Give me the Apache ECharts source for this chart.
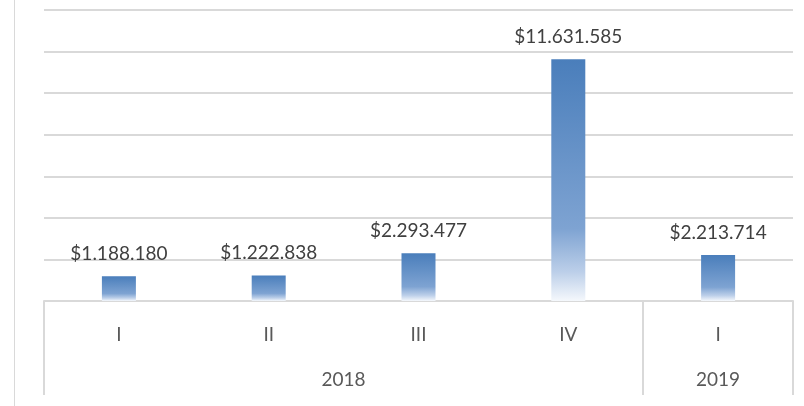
<!DOCTYPE html>
<html>
<head>
<meta charset="utf-8">
<script src="https://cdn.jsdelivr.net/npm/echarts@6/dist/echarts.min.js"></script>
<style>html,body{margin:0;padding:0;background:#fff}#c{width:804px;height:406px}</style>
</head>
<body>
<div id="c"></div>
<script>
const quarters = ['I', 'II', 'III', 'IV', 'I'];
const values = [1188180, 1222838, 2293477, 11631585, 2213714];
const years = ['2018', '2019'];
const yearSpans = [4, 1];           // number of quarters in each year group
const yMax = 14000000;
const yInterval = 2000000;

function fmt(v) {
  return '$' + String(v).replace(/\B(?=(\d{3})+(?!\d))/g, '.');
}

// build year group boundaries and centers from spans
const bounds = [0];
yearSpans.forEach(s => bounds.push(bounds[bounds.length - 1] + s));
const centers = yearSpans.map((s, i) => bounds[i] + s / 2);

const chart = echarts.init(document.getElementById('c'));
chart.setOption({
  animation: false,
  backgroundColor: '#fff',
  textStyle: { fontFamily: 'Lato' },
  graphic: [{
    type: 'line', shape: { x1: 14.5, y1: 0, x2: 14.5, y2: 406 },
    style: { stroke: '#d9d9d9', lineWidth: 1 }
  }],
  grid: { left: 44, right: 11, top: 10, bottom: 105, containLabel: false },
  xAxis: [{
    type: 'category',
    data: quarters,
    position: 'bottom',
    axisLine: { show: true, lineStyle: { color: '#d9d9d9', width: 2 } },
    axisTick: { show: false },
    axisLabel: { color: '#595959', fontSize: 19, margin: 24, fontFamily: 'Lato' }
  }, {
    type: 'value',
    min: 0, max: yearSpans.reduce((a, b) => a + b, 0),
    position: 'bottom',
    offset: 0,
    splitLine: { show: false },
    axisLine: { show: false },
    axisTick: { show: true, customValues: bounds, length: 94, lineStyle: { color: '#d9d9d9', width: 2 } },
    axisLabel: {
      show: true, customValues: centers, color: '#595959', fontSize: 19, margin: 69, fontFamily: 'Lato',
      formatter: v => { const i = centers.indexOf(v); return i >= 0 ? years[i] : ''; }
    }
  }],
  yAxis: {
    type: 'value', min: 0, max: yMax, interval: yInterval,
    axisLine: { show: false }, axisTick: { show: false }, axisLabel: { show: false },
    splitLine: { show: true, lineStyle: { color: '#d9d9d9', width: 2 } }
  },
  series: [{
    type: 'bar',
    xAxisIndex: 0,
    data: values,
    barWidth: 34,
    itemStyle: {
      color: new echarts.graphic.LinearGradient(0, 0, 0, 1, [
        { offset: 0, color: '#4a7ebb' },
        { offset: 0.7, color: '#7ea3d2' },
        { offset: 0.88, color: '#bccfe9' },
        { offset: 1, color: '#f5f8fc' }
      ])
    },
    label: {
      show: true, position: 'top', distance: 13,
      color: '#404040', fontSize: 19, fontFamily: 'Lato',
      formatter: p => fmt(p.value)
    }
  }]
});
</script>
</body>
</html>
